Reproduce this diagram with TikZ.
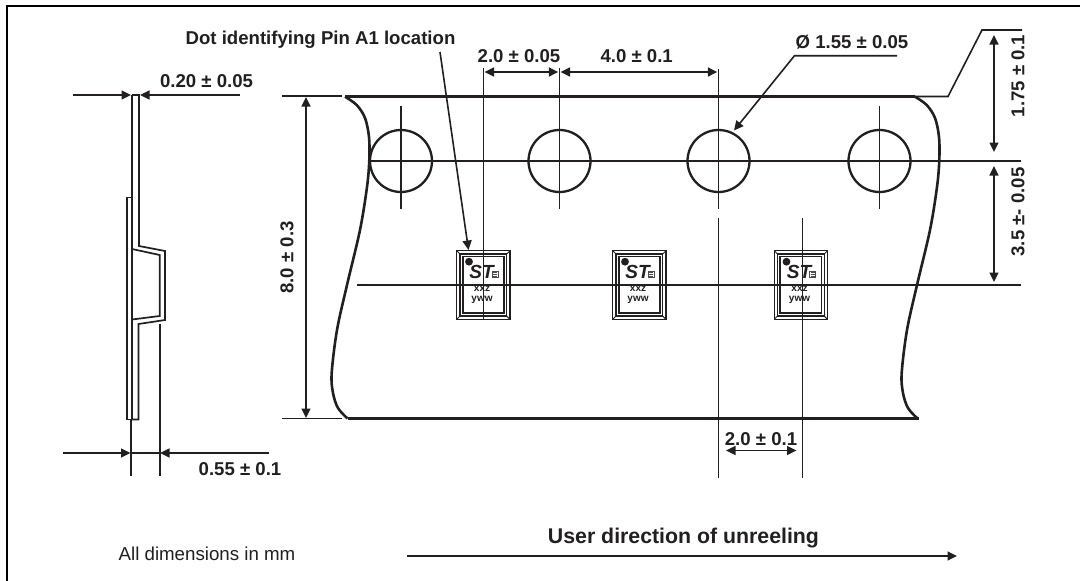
\documentclass[tikz,border=0pt]{standalone}
\usepackage{fontspec}
\setmainfont{Liberation Sans}
\usetikzlibrary{arrows.meta}
\definecolor{ink}{HTML}{231F20}
\tikzset{
  thin line/.style={draw=ink,line width=1.6pt},
  tape/.style={draw=ink,line width=2.6pt},
  outline/.style={draw=ink,line width=1.7pt},
  tipped/.style={thin line,-{Triangle[length=9.5pt,width=9pt]}},
  both tipped/.style={thin line,{Triangle[length=9.5pt,width=9pt]}-{Triangle[length=9.5pt,width=9pt]}},
  dim/.style={font=\fontsize{18.6}{20}\selectfont\bfseries,text=ink,inner sep=0pt},
}
\newcommand{\chip}[2]{%
 \begin{scope}[shift={(#1,0)}]
  \draw[draw=ink,line width=1.3pt] (456.7,250.7) rectangle (510,319.3);
  \draw[draw=ink,line width=1.2pt] (460,254) rectangle (506.7,316);
  \draw[draw=ink,line width=1.9pt] (462.7,256.5) rectangle (504,313.3);
  \draw[draw=ink,line width=1pt] (456.7,250.7)--(460,254) (510,250.7)--(506.7,254) (456.7,319.3)--(460,316) (510,319.3)--(506.7,316);
  \fill[ink] (469,261.7) circle (3.9);
  \node[inner sep=0pt,text=ink,font=\fontsize{19}{20}\selectfont\bfseries\itshape] (st#2) at (481.5,272) {ST};
  \draw[draw=ink!80,line width=.6pt,fill=white] (492,271) rectangle (498,277.5);
  \draw[draw=ink!80,line width=.4pt] (493,272.6)--(497,272.6) (493,274.2)--(497,274.2) (493,275.8)--(497,275.8);
  \node[inner sep=0pt,text=ink,font=\fontsize{10}{11}\selectfont\bfseries] (xxz#2) at (482,289) {xxz};
  \node[inner sep=0pt,text=ink,font=\fontsize{10}{11}\selectfont\bfseries] (yww#2) at (482,300.3) {yww};
 \end{scope}}
\begin{document}
\begin{tikzpicture}[x=1pt,y=-1pt]
\useasboundingbox (0,0) rectangle (1080,581);
% frame
\draw[draw=black,line width=2.2pt] (7,581)--(7,6)--(1080,6);
% side view
\draw[outline] (127,197.5) rectangle (132,419.5);
\draw[outline,line join=miter] (132,95)--(139,95)--(139,246)--(165,251)--(165,320)--(138.5,324)--(138.5,419.5)--(132,419.5);
\draw[outline] (132,95)--(132,249)--(159.7,255)--(159.7,316)--(132,319.5)--(132,419.5);
\draw[thin line,line width=1.8pt] (131,420)--(131,476);
\draw[thin line] (159.7,324)--(159.7,476);
% side dimensions
\coordinate (a1) at (73,95); \coordinate (a2) at (131,95);
\coordinate (a3) at (240,95); \coordinate (a4) at (140,95);
\draw[tipped] (a1)--(a2);
\draw[tipped] (a3)--(a4);
\node[dim] (t020) at (206.5,81.5) {0.20 ± 0.05};
\coordinate (b1) at (63,453); \coordinate (b2) at (130.5,453);
\coordinate (b3) at (269,453); \coordinate (b4) at (160,453);
\draw[tipped] (b1)--(b2);
\draw[tipped] (b3)--(b4);
\draw[thin line] (b2)--(b4);
\node[dim] (t055) at (240,469) {0.55 ± 0.1};
% 8.0
\draw[thin line] (282,96)--(342,96) (282,418.5)--(342,418.5);
\coordinate (c1) at (306,97); \coordinate (c2) at (306,418);
\draw[both tipped] (c1)--(c2);
\node[dim,rotate=90] (t80) at (287,257.5) {8.0 ± 0.3};
% tape edges
\draw[tape] (345,96.5)--(915,96.5);
\draw[tape] (347.5,418.5)--(918.5,418.5);
\draw[tape] plot[smooth,tension=.55] coordinates {(345,96.7)(356.7,105)(365,118)(369,137)(369.3,160)(367,187)(360,230)(347,285)(337,330)(331.7,373)(333,393)(338,408)(347.5,418.5)};
\draw[tape] plot[smooth,tension=.55] coordinates {(915,96.7)(926.7,105)(935,118)(939,137)(939.3,160)(937,187)(930,230)(917,285)(907,330)(901.7,373)(903,393)(908,408)(917.5,418.5)};
\draw[thin line] (915,96.5)--(948,96.5)--(982,30)--(1022,30);
% holes
\foreach \n/\x in {1/401,2/559.5,3/718.5,4/879.5}{
  \draw[outline,line width=2.3pt] (\x,161) circle (31);
}
\draw[thin line] (370,161)--(1021,161);
\draw[thin line] (357,285)--(1021,285);
\draw[thin line] (401,106)--(401,209);
\draw[thin line] (879.5,106)--(879.5,209);
\draw[thin line] (559.5,68)--(559.5,209);
\draw[thin line] (718.5,69)--(718.5,209);
\draw[thin line] (718.5,218)--(718.5,478);
\draw[thin line] (802.5,218)--(802.5,478);
% chips
\chip{0}{a}
\chip{156}{b}
\chip{317.5}{c}
\draw[thin line] (483.5,68)--(483.5,319);
% top dimensions
\coordinate (d1) at (484.5,72); \coordinate (d2) at (558.3,72);
\coordinate (d3) at (560.5,72); \coordinate (d4) at (717.3,72);
\draw[both tipped] (d1)--(d2);
\draw[both tipped] (d3)--(d4);
\node[dim] (t20a) at (519,56.5) {2.0 ± 0.05};
\node[dim] (t40) at (636.7,56.5) {4.0 ± 0.1};
% diameter
\node[dim] (tdia) at (852,42) {Ø 1.55 ± 0.05};
\coordinate (e1) at (897,55.7); \coordinate (e2) at (794.5,55.7); \coordinate (e3) at (734,130.5);
\draw[tipped] (e1)--(e2)--(e3);
% pin note
\node[dim] (tdot) at (320.5,40) {Dot identifying Pin A1 location};
\coordinate (f1) at (440,52); \coordinate (f2) at (468.5,250);
\draw[tipped] (f1)--(f2);
% right dimensions
\coordinate (g1) at (994,35); \coordinate (g2) at (994,152);
\coordinate (g3) at (994,166); \coordinate (g4) at (994,282);
\draw[both tipped] (g1)--(g2);
\draw[both tipped] (g3)--(g4);
\node[dim,rotate=90] (t175) at (1018,76) {1.75 ± 0.1};
\node[dim,rotate=90] (t35) at (1018,212) {3.5 ±- 0.05};
% bottom dimension
\coordinate (h1) at (726,450.5); \coordinate (h2) at (796.5,450.5);
\draw[both tipped] (h1)--(h2);
\node[dim] (t20b) at (761,439) {2.0 ± 0.1};
% footer
\node[inner sep=0pt,text=ink,font=\fontsize{18.7}{20}\selectfont] (tall) at (207,554) {All dimensions in mm};
\coordinate (k1) at (407,556); \coordinate (k2) at (957,556);
\draw[tipped] (k1)--(k2);
\node[inner sep=0pt,text=ink,font=\fontsize{21.3}{23}\selectfont\bfseries] (tuser) at (683.5,538) {User direction of unreeling};
\end{tikzpicture}
\end{document}
